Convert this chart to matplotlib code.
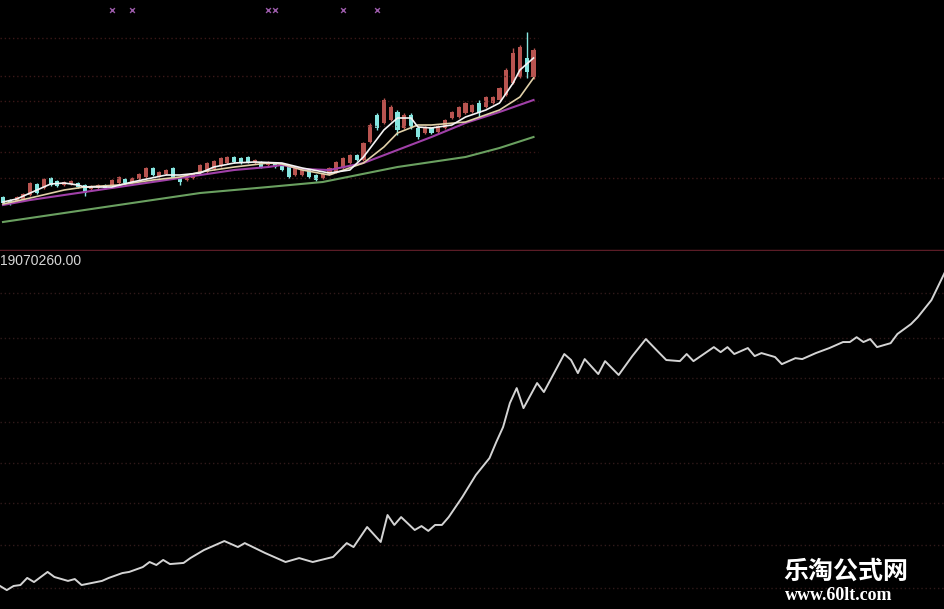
import numpy as np
import matplotlib.pyplot as plt

# candle data (price panel), one row per day
opens = [5.5, 5.2, 5.1, 5.3, 5.7, 6.8, 6.4, 7.4, 7.1, 6.7, 6.8, 6.9, 6.7, 6.3, 6.4, 6.7,
         6.7, 6.9, 7.3, 7.0, 7.3, 7.5, 8.4, 7.6, 7.8, 8.4, 7.4, 7.2, 7.4, 7.9, 8.0, 8.3,
         8.6, 8.9, 9.5, 9.4, 9.5, 8.9, 9.0, 8.7, 8.9, 8.8, 8.5, 7.7, 7.7, 8.2, 7.7, 7.4,
         7.8, 8.0, 8.4, 8.9, 9.7, 9.2, 11.0, 13.7, 12.9, 13.2, 14.0, 12.4, 13.7, 12.4,
         11.9, 12.4, 12.0, 12.4, 13.4, 13.5, 13.9, 14.0, 14.9, 14.5, 14.9, 15.2, 15.7,
         16.9, 17.5, 19.4, 17.5]
closes = [4.9, 4.8, 5.5, 5.8, 6.9, 5.9, 7.3, 6.7, 6.6, 7.0, 7.1, 6.5, 5.9, 6.6, 6.7, 6.4,
          7.2, 7.5, 6.9, 7.4, 7.8, 8.4, 7.7, 8.0, 8.2, 7.4, 7.0, 7.6, 7.8, 8.7, 8.9, 9.1,
          9.4, 9.5, 9.0, 8.9, 9.0, 9.2, 8.5, 9.0, 8.5, 8.2, 7.5, 8.4, 8.3, 7.5, 7.2, 7.8,
          8.4, 9.0, 9.4, 9.7, 9.2, 10.9, 12.7, 12.4, 15.2, 14.5, 12.2, 13.7, 12.5, 11.5,
          12.5, 11.9, 12.6, 13.2, 14.0, 14.5, 14.9, 14.7, 13.9, 15.5, 15.5, 16.4, 18.2,
          19.9, 20.5, 18.0, 20.2]
highs = [5.6, 5.3, 5.6, 5.9, 7.0, 6.9, 7.4, 7.5, 7.2, 7.1, 7.2, 7.0, 6.8, 6.7, 6.8, 6.8,
         7.3, 7.6, 7.4, 7.5, 7.9, 8.5, 8.5, 8.1, 8.3, 8.5, 7.5, 7.7, 7.9, 8.8, 9.0, 9.2,
         9.5, 9.6, 9.6, 9.5, 9.6, 9.3, 9.1, 9.1, 9.0, 8.9, 8.6, 8.5, 8.4, 8.3, 7.8, 7.9,
         8.5, 9.1, 9.5, 9.8, 9.8, 11.0, 12.9, 13.9, 15.4, 14.7, 14.2, 13.9, 13.9, 12.6,
         12.6, 12.5, 12.7, 13.3, 14.1, 14.6, 15.0, 14.8, 15.2, 15.6, 15.6, 16.5, 18.4,
         20.4, 20.7, 22.0, 20.4]
lows = [4.8, 4.7, 5.0, 5.2, 5.6, 5.8, 6.3, 6.6, 6.5, 6.6, 6.7, 6.4, 5.6, 6.2, 6.3, 6.3,
        6.6, 6.8, 6.8, 6.9, 7.2, 7.4, 7.6, 7.5, 7.7, 7.3, 6.7, 7.1, 7.3, 7.8, 7.9, 8.2,
        8.5, 8.8, 8.9, 8.8, 8.9, 8.8, 8.4, 8.6, 8.4, 8.1, 7.4, 7.6, 7.6, 7.4, 7.1, 7.3,
        7.7, 7.9, 8.3, 8.8, 9.1, 9.1, 10.9, 12.2, 12.8, 13.1, 11.7, 12.3, 12.3, 11.3,
        11.8, 11.8, 11.9, 12.3, 13.3, 13.4, 13.8, 13.9, 13.4, 14.4, 14.8, 15.1, 15.6,
        16.8, 17.4, 17.4, 17.3]

# moving averages, read at some days
ma5_day = [0, 2, 4, 7, 9, 11, 12, 16, 19, 24, 26, 29, 31, 34, 37, 41, 44, 48, 51, 53,
           56, 58, 60, 61, 63, 66, 68, 71, 73, 75, 76, 78]
ma5_val = [5.0, 5.3, 5.9, 6.8, 6.9, 6.7, 6.5, 6.5, 7.0, 7.7, 7.7, 7.9, 8.5, 8.9, 9.0,
           8.9, 8.4, 7.9, 8.2, 9.5, 12.2, 13.4, 13.4, 12.5, 12.4, 12.7, 13.5, 14.2,
           14.9, 16.9, 18.2, 19.4]
ma10_day = [0, 4, 9, 12, 17, 22, 26, 29, 34, 39, 41, 44, 48, 53, 56, 58, 61, 63, 68,
            73, 76, 78]
ma10_val = [4.8, 5.4, 6.2, 6.5, 6.7, 7.2, 7.5, 8.0, 8.5, 8.9, 8.8, 8.2, 7.7, 8.9, 10.5,
            11.9, 12.7, 12.7, 13.0, 14.2, 15.5, 17.4]
ma20_day = [0, 4, 9, 19, 24, 29, 34, 39, 41, 44, 48, 53, 58, 63, 68, 73, 78]
ma20_val = [4.7, 5.2, 5.7, 6.7, 7.2, 7.7, 8.2, 8.5, 8.7, 8.3, 8.2, 8.9, 10.2, 11.5,
            12.9, 14.0, 15.2]
ma60_day = [0, 9, 19, 29, 39, 47, 58, 68, 73, 78]
ma60_val = [3.0, 3.9, 4.9, 5.9, 6.5, 7.0, 8.5, 9.5, 10.4, 11.5]

signal_days = [16, 19, 39, 40, 50, 55]
signal_price = 24.2

# indicator panel (millions)
ind_day = [0, 1, 2, 3, 4, 5, 7, 8, 10, 11, 12, 15, 16, 18, 19, 21, 22, 23, 24, 25,
           27, 28, 30, 33, 35, 36, 39, 42, 44, 46, 49, 51, 52, 54, 56, 57, 58, 59,
           61, 62, 63, 64, 65, 66, 68, 70, 72, 73, 74, 75, 76, 77, 79, 80, 83, 84,
           85, 86, 88, 89, 91, 93, 95, 97, 98, 100, 101, 102, 105, 106, 107, 108,
           110, 111, 112, 114, 115, 117, 118, 120, 122, 124, 125, 126, 127, 128,
           129, 131, 132, 134, 135, 137, 139]
ind_val = [1.23, 1.01, 1.23, 1.28, 1.66, 1.44, 1.98, 1.71, 1.50, 1.60, 1.28, 1.50,
           1.66, 1.92, 1.98, 2.24, 2.51, 2.35, 2.62, 2.40, 2.46, 2.72, 3.15, 3.63,
           3.31, 3.52, 2.99, 2.51, 2.72, 2.51, 2.78, 3.52, 3.31, 4.38, 3.58, 5.02,
           4.49, 4.91, 4.22, 4.43, 4.17, 4.49, 4.49, 4.91, 5.98, 7.16, 8.06, 8.92,
           9.72, 11.00, 11.80, 10.73, 12.07, 11.59, 13.62, 13.30, 12.60, 13.35,
           12.55, 13.24, 12.50, 13.51, 14.42, 13.67, 13.30, 13.24, 13.62, 13.24,
           13.99, 13.72, 13.99, 13.62, 13.94, 13.51, 13.67, 13.46, 13.08, 13.40,
           13.35, 13.67, 13.94, 14.26, 14.26, 14.52, 14.26, 14.42, 13.99, 14.20,
           14.69, 15.22, 15.59, 16.50, 18.00]
ind_label = '19070260.00'

top_grid = [21.4, 17.6, 15.1, 12.6, 10.0]
bottom_grid = [16.87, 14.47, 12.34, 9.99, 7.80, 5.66, 3.42, 1.12]

fig = plt.figure(figsize=(9.45, 6.09), dpi=100, facecolor='black')
ax1 = fig.add_axes([0, 358 / 609, 1, 251 / 609])
ax2 = fig.add_axes([0, 0, 1, 357 / 609])
for ax in (ax1, ax2):
    ax.set_facecolor('black')
    ax.set_axis_off()

# price panel
ax1.set_xlim(-0.44, 138.5)
ax1.set_ylim(0.1, 25.2)
ax1.hlines(top_grid, -0.44, 78.6, colors='#3a1818', linestyles=(0, (1, 2)), lw=1)
ax1.hlines([7.4], -0.44, 138.5, colors='#3a1818', linestyles=(0, (1, 2)), lw=1)
ax1.axhline(0.15, color='#5a1c26', lw=2.5)

days = np.arange(len(opens))
o = np.array(opens)
c = np.array(closes)
up = c >= o
cols = np.where(up, '#b85450', '#86e6e0')
ax1.vlines(days, lows, highs, colors=cols, lw=1)
ax1.bar(days, np.abs(c - o), bottom=np.minimum(o, c), width=0.6, color=cols)

ax1.plot(ma60_day, ma60_val, color='#6aa060', lw=1.5)
ax1.plot(ma20_day, ma20_val, color='#a040a8', lw=1.5)
ax1.plot(ma10_day, ma10_val, color='#e0d0a8', lw=1.2)
ax1.plot(ma5_day, ma5_val, color='#f4f4f4', lw=1.2)
ax1.scatter(signal_days, [signal_price] * len(signal_days), marker='x', s=12,
            color='#9a5aa8', lw=1)

# indicator panel
ax2.set_xlim(0, 139)
ax2.set_ylim(0, 19.07)
ax2.hlines(bottom_grid, 0, 139, colors='#301a1a', linestyles=(0, (1, 2)), lw=1)
ax2.plot(ind_day, ind_val, color='#d4d4d4', lw=1.4)
ax2.text(0.0, 0.995, ind_label, transform=ax2.transAxes, ha='left', va='top',
         color='#d8d8d8', fontsize=10, family='Liberation Sans')

fig.text(846 / 945, 1 - 572 / 609, '乐淘公式网', ha='center', va='center',
         color='white', fontsize=18, fontweight='bold',
         family=['Noto Sans CJK SC', 'DejaVu Sans'])
fig.text(839 / 945, 1 - 596 / 609, 'www.60lt.com', ha='center', va='center',
         color='white', fontsize=13, fontweight='bold', family='Liberation Serif')

fig.savefig('out.png', dpi=100, facecolor='black')
